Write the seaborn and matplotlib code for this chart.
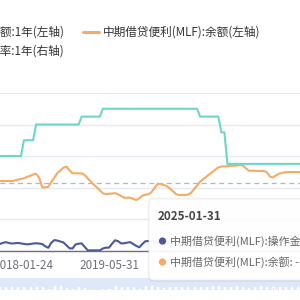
import matplotlib
matplotlib.use("Agg")
import matplotlib.pyplot as plt
import seaborn as sns
import numpy as np
import pandas as pd
from matplotlib.patches import FancyBboxPatch, Circle

# ---------------- data ----------------
TICK_INDEX = [8, 36]
TICK_LABELS = ["2018-01-24", "2019-05-31"]

OPERATION = [4100, 4800, 5300, 4800, 4400, 4600, 4800, 4500, 4200, 3900,
             4100, 4400, 4600, 4400, 4100, 2700, 1700, 4900, 6600, 6300,
             5700, 5100, 3300, 1400, 1300, 3900, 4300, 4500, 2300, 100,
             100, 100, 100, 100, 1300, 1800, 1800, 4300, 6500, 5900,
             4500, 4600, 5000, 5300, 4100, 2900, 2000, 4200, 5900, 6000,
             5800, 5200, 4600, 4400, 3800, 4500, 5000, 4700, 4300, 3600,
             4200, 4800, 5200, 5600, 4900, 4400, 3900, 4100, 4700, 5300,
             5900, 6200, 5600, 4800, 4300, 4000, 4500, 5000, 5600, 5200,
             4700, 4200, 3800, 4300, 5100, 5700, 6000, 5500, 4900, 4400,
             4100, 4600, 5200, 5800, 5400, 4800, 4400, 4800, 5300, 5600]

BALANCE = [44100, 44100, 44100, 44100, 44100, 44500, 45000, 45400, 45900, 46700,
           47400, 48200, 48700, 46300, 40100, 40100, 40400, 43400, 46300, 49200,
           50800, 52600, 53300, 50900, 49000, 49000, 49000, 49000, 47900, 45800,
           43700, 41800, 40100, 38200, 36300, 35800, 36000, 36200, 36400, 35700,
           34600, 33500, 33500, 33500, 32700, 32100, 33200, 34900, 35400, 35700,
           37100, 39700, 42300, 42200, 41600, 41000, 39400, 37700, 35900, 35200,
           35200, 35200, 35500, 36500, 38900, 41300, 43700, 45300, 46800, 48300,
           49800, 51300, 52800, 53300, 53400, 53500, 53700, 53800, 53900, 54200,
           54100, 52300, 50700, 50600, 50600, 50500, 50500, 50500, 49600, 46900,
           46400, 47700, 48800, 49300, 49700, 49800, 49800, 49800, 49800, 49800]

RATE = [3.0, 3.0, 3.0, 3.0, 3.0, 3.0, 3.0, 3.0, 3.1, 3.1,
        3.1, 3.1, 3.2, 3.2, 3.2, 3.2, 3.2, 3.2, 3.2, 3.2,
        3.2, 3.2, 3.2, 3.2, 3.2, 3.2, 3.2, 3.25, 3.25, 3.25,
        3.25, 3.25, 3.25, 3.25, 3.3, 3.3, 3.3, 3.3, 3.3, 3.3,
        3.3, 3.3, 3.3, 3.3, 3.3, 3.3, 3.3, 3.3, 3.3, 3.3,
        3.3, 3.3, 3.3, 3.3, 3.3, 3.3, 3.3, 3.3, 3.3, 3.3,
        3.3, 3.3, 3.3, 3.3, 3.3, 3.3, 3.25, 3.25, 3.25, 3.25,
        3.25, 3.25, 3.25, 3.15, 3.15, 2.95, 2.95, 2.95, 2.95, 2.95,
        2.95, 2.95, 2.95, 2.95, 2.95, 2.95, 2.95, 2.95, 2.95, 2.95,
        2.95, 2.95, 2.95, 2.95, 2.95, 2.95, 2.95, 2.95, 2.95, 2.95]

MARK_LINE = 42900
LEGEND_ROW1 = ["中期借贷便利(MLF):操作金额:1年(左轴)", "中期借贷便利(MLF):余额(左轴)"]
LEGEND_ROW2 = ["中期借贷便利(MLF):利率:1年(右轴)"]
TOOLTIP_DATE = "2025-01-31"
TOOLTIP_ROWS = ["中期借贷便利(MLF):操作金额:1年: -", "中期借贷便利(MLF):余额: -"]

NAVY = "#4b5899"
ORANGE = "#f7aa63"
TEAL = "#6dd6c6"

# ---------------- figure ----------------
sns.set_theme(style="white")
plt.rcParams["font.family"] = ["Noto Sans CJK SC", "DejaVu Sans"]

W = H = 300
fig = plt.figure(figsize=(3, 3), dpi=100)

def fx(px):
    return px / W

def fy(py):
    return 1 - py / H

top_px, bot_px = 93, 250.5
ax = fig.add_axes([0, fy(bot_px), 1, fy(top_px) - fy(bot_px)])
ax2 = ax.twinx()

df = pd.DataFrame({"i": np.arange(len(BALANCE)), "op": OPERATION,
                   "bal": BALANCE, "rate": RATE})

ax.set_ylim(0, 100000)
ax.set_yticks([0, 20000, 40000, 60000, 80000, 100000])
ax.yaxis.grid(True, color="#e6e9f2", linewidth=1.0)
ax.xaxis.grid(False)
ax.axhline(MARK_LINE, color="#a7b4e8", linewidth=0.9, linestyle=(0, (4, 3)), zorder=1)

sns.lineplot(data=df, x="i", y="op", ax=ax, color=NAVY, linewidth=1.5, zorder=3)
sns.lineplot(data=df, x="i", y="bal", ax=ax, color=ORANGE, linewidth=1.5, zorder=4)
sns.lineplot(data=df, x="i", y="rate", ax=ax2, color=TEAL, linewidth=1.5, zorder=5)
ax2.set_ylim(2.4, 3.4)

xl = (0 + 0.33) / 3.037
xr = (300 + 0.33) / 3.037
for a in (ax, ax2):
    a.set_xlim(xl, xr)
    a.set_ylabel("")
    a.set_xlabel("")
    for s in a.spines.values():
        s.set_visible(False)
ax2.set_yticks([])
ax.tick_params(axis="y", left=False, labelleft=False)
ax.spines["bottom"].set_visible(True)
ax.spines["bottom"].set_color("#6E7079")
ax.spines["bottom"].set_linewidth(1.0)
ax.set_xticks(TICK_INDEX)
ax.set_xticklabels(TICK_LABELS, fontsize=8.4, color="#6E7079")
ax.tick_params(axis="x", bottom=False, pad=0)

# ---------------- legend (cropped) ----------------
fig.text(fx(65), fy(32), LEGEND_ROW1[0], ha="right", va="center", fontsize=8.4, color="#333333")
fig.add_artist(plt.Line2D([fx(83), fx(99)], [fy(32), fy(32)], color=ORANGE, linewidth=2.2))
fig.text(fx(103), fy(32), LEGEND_ROW1[1], ha="left", va="center", fontsize=8.4, color="#333333")
fig.text(fx(65), fy(51), LEGEND_ROW2[0], ha="right", va="center", fontsize=8.4, color="#333333")

# ---------------- data zoom slider ----------------
sax = fig.add_axes([0, fy(290), 1, fy(278) - fy(290)])
sax.set_facecolor("#dfe8f9")
sax.bar(df["i"][::2], df["op"][::2], width=0.35, color="#a9c0ef")
sax.set_xlim(xl, xr)
sax.set_ylim(-400, 20000)
sax.set_xticks([])
sax.set_yticks([])
for s in sax.spines.values():
    s.set_visible(False)

# ---------------- tooltip ----------------
tx0, ty0, tx1, ty1 = 149, 199, 312, 280
shadow = FancyBboxPatch((fx(tx0) - 0.004, fy(ty1) - 0.006), fx(tx1 - tx0) + 0.008, fy(ty0) - fy(ty1) + 0.01,
                        boxstyle="round,pad=0,rounding_size=0.02", transform=fig.transFigure,
                        facecolor="#000000", alpha=0.06, edgecolor="none", zorder=9)
fig.add_artist(shadow)
box = FancyBboxPatch((fx(tx0), fy(ty1)), fx(tx1 - tx0), fy(ty0) - fy(ty1),
                     boxstyle="round,pad=0,rounding_size=0.015", transform=fig.transFigure,
                     facecolor="white", alpha=0.94, edgecolor="#eeeeee", linewidth=0.6, zorder=10)
fig.add_artist(box)
fig.text(fx(158), fy(217), TOOLTIP_DATE, ha="left", va="center", fontsize=8.4,
         fontweight="bold", color="#464646", zorder=11)
for k, (row, col) in enumerate(zip(TOOLTIP_ROWS, [NAVY, ORANGE])):
    yy = 241 + 21 * k
    fig.add_artist(Circle((fx(162.5), fy(yy)), 3.6 / W, transform=fig.transFigure,
                          facecolor=col, edgecolor="none", zorder=11))
    fig.text(fx(170), fy(yy), row, ha="left", va="center", fontsize=7.9,
             color="#666666", zorder=11)

fig.savefig("out.png", dpi=100)
